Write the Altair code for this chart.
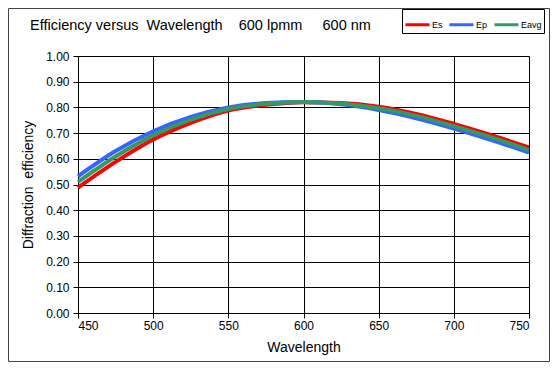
import altair as alt
import pandas as pd

wavelength = [450, 475, 500, 525, 550, 575, 600, 625, 650, 675, 700, 725, 750]
es = [0.488, 0.588, 0.675, 0.740, 0.788, 0.810, 0.820, 0.817, 0.803, 0.775, 0.736, 0.692, 0.644]
ep = [0.532, 0.630, 0.707, 0.763, 0.800, 0.817, 0.821, 0.812, 0.790, 0.758, 0.718, 0.673, 0.624]
eavg = [0.510, 0.609, 0.691, 0.752, 0.794, 0.814, 0.821, 0.815, 0.797, 0.767, 0.727, 0.683, 0.634]

series_names = ["Es", "Ep", "Eavg"]
series_colors = ["#ff0000", "#3366ff", "#339966"]
x_ticks = [450, 500, 550, 600, 650, 700, 750]
y_ticks = [0.0, 0.1, 0.2, 0.3, 0.4, 0.5, 0.6, 0.7, 0.8, 0.9, 1.0]

rows = []
for name, vals in zip(series_names, [es, ep, eavg]):
    for w, v in zip(wavelength, vals):
        rows.append({"Wavelength": w, "Efficiency": v, "Series": name})
df = pd.DataFrame(rows)

PW, PH = 451, 257
FONT = "Liberation Sans"

x_enc = alt.X(
    "Wavelength:Q",
    scale=alt.Scale(domain=[450, 750], nice=False, zero=False),
    axis=alt.Axis(
        values=x_ticks, format="d", title="Wavelength",
        grid=True, gridColor="#000000", gridWidth=1,
        domainColor="#000000", tickColor="#000000", tickSize=5,
        labelPadding=2, labelFontSize=12, labelFont=FONT, labelColor="#000000",
        titleFont=FONT, titleFontSize=14, titleFontWeight="normal", titleColor="#000000",
        titleY=34, titleBaseline="middle",
    ),
)
y_enc = alt.Y(
    "Efficiency:Q",
    scale=alt.Scale(domain=[0, 1], nice=False, zero=True),
    axis=alt.Axis(
        values=y_ticks, format=".2f", title="Diffraction\u00a0\u00a0efficiency",
        grid=True, gridColor="#000000", gridWidth=1,
        domainColor="#000000", tickColor="#000000", tickSize=5,
        labelPadding=4, labelFontSize=12, labelFont=FONT, labelColor="#000000",
        titleFont=FONT, titleFontSize=14, titleFontWeight="normal", titleColor="#000000",
        titleX=-50, titleY=PH / 2, titleAngle=270, titleAlign="center", titleBaseline="middle",
    ),
)
color_enc = alt.Color(
    "Series:N",
    scale=alt.Scale(domain=series_names, range=series_colors),
    legend=alt.Legend(
        orient="none", legendX=324, legendY=-47, direction="horizontal", title=None,
        symbolType="stroke", symbolSize=576, symbolStrokeWidth=3,
        labelFontSize=9, labelFont=FONT, labelColor="#000000", labelOffset=1,
        columnPadding=0, padding=2,
        strokeColor="#000000", fillColor="#ffffff",
    ),
)

layers = []
for name in series_names:
    layers.append(
        alt.Chart(df)
        .transform_filter(alt.datum.Series == name)
        .mark_line(strokeWidth=4, interpolate="monotone")
        .encode(x=x_enc, y=y_enc, color=color_enc)
    )

border = alt.Chart(pd.DataFrame({"a": [0]})).mark_rect(
    fill="transparent", stroke="#444444", strokeWidth=1
).encode(
    x=alt.value(-69.5), x2=alt.value(471.5), y=alt.value(-47.5), y2=alt.value(305.5)
)

chart = alt.layer(*layers, border).properties(
    width=PW,
    height=PH,
    autosize=alt.AutoSizeParams(type="none"),
    padding={"left": 70, "top": 48, "right": 21, "bottom": 49},
    title=alt.TitleParams(
        "Efficiency versus\u00a0\u00a0Wavelength\u00a0\u00a0\u00a0\u00a0600 lpmm\u00a0\u00a0\u00a0\u00a0\u00a0600 nm",
        anchor="start", frame="group", dx=-48, offset=-32, baseline="middle",
        fontSize=14.5, font=FONT, fontWeight="normal", color="#000000",
    ),
).configure_view(
    fill="#c0c0c0", stroke="#808080", strokeWidth=1
).configure(background="#ffffff")

chart.save("out.html", embed_options={"renderer": "svg", "actions": False})
